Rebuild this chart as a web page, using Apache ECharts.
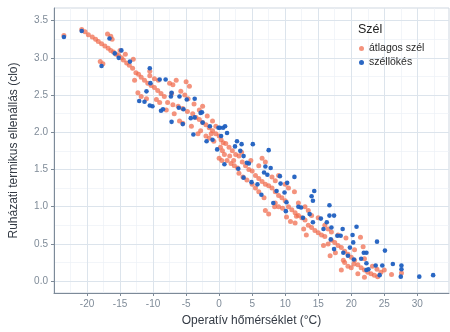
<!DOCTYPE html>
<html><head><meta charset="utf-8">
<script src="https://cdn.jsdelivr.net/npm/echarts@6/dist/echarts.min.js"></script>
<style>html,body{margin:0;padding:0;background:#fff}#c{width:450px;height:332px}</style>
</head><body><div id="c"></div>
<script>
const seriesNames = ['átlagos szél', 'széllökés'];
const xMajor = [-20,-15,-10,-5,0,5,10,15,20,25,30];
const xMinor = [-22.5,-17.5,-12.5,-7.5,-2.5,2.5,7.5,12.5,17.5,22.5,27.5,32.5];
const yMajor = [0,0.5,1,1.5,2,2.5,3,3.5];
const yMinor = [0.25,0.75,1.25,1.75,2.25,2.75,3.25];
const xRange = [-25, 34.8];
const yRange = [-0.16, 3.67];

const atlagos = [
[-23.5,3.30],[-20.8,3.38],[-20.3,3.35],[-19.8,3.31],[-19.2,3.28],[-18.7,3.25],[-18.3,3.22],[-17.8,3.19],
[-17.3,3.16],[-16.8,3.13],[-16.4,3.10],[-16.0,3.08],[-15.6,3.05],[-15.2,3.03],[-14.8,3.00],[-16.9,3.32],
[-16.4,3.29],[-16.2,3.25],[-18.0,2.95],[-17.6,2.92],[-15.0,3.10],[-14.5,2.97],[-14.0,2.93],[-13.6,2.90],
[-13.1,2.86],[-12.6,2.80],[-12.2,2.78],[-11.8,2.74],[-11.3,2.70],[-10.8,2.66],[-10.3,2.63],[-9.8,2.60],
[-9.3,2.56],[-8.8,2.52],[-8.3,2.48],[-13.0,2.98],[-10.5,2.82],[-10.5,2.76],[-9.8,2.72],[-12.3,2.53],
[-11.8,2.48],[-11.0,2.45],[-9.5,2.44],[-9.0,2.40],[-7.5,2.66],[-7.0,2.64],[-6.5,2.70],[-5.0,2.68],
[-4.5,2.62],[-5.8,2.55],[-5.2,2.50],[-4.7,2.45],[-7.8,2.40],[-7.0,2.37],[-6.2,2.35],[-5.5,2.32],
[-4.8,2.28],[-4.0,2.25],[-3.5,2.20],[-3.0,2.17],[-2.5,2.13],[-2.0,2.10],[-1.5,2.06],[-1.0,2.02],
[-0.5,1.98],[0.0,1.95],[0.3,1.90],[0.6,1.86],[-6.0,2.15],[-5.5,2.12],[-3.0,2.30],[-2.5,2.35],
[-3.8,2.38],[-1.8,2.22],[-1.0,2.15],[-0.5,2.08],[-2.0,1.95],[-1.5,1.92],[-0.8,1.88],[0.2,1.80],
[0.5,1.75],[0.8,1.70],[0.0,1.65],[1.0,1.85],[1.5,1.80],[2.0,1.75],[2.5,1.70],[3.0,1.68],
[1.2,1.62],[1.8,1.58],[2.3,1.55],[3.5,1.60],[4.0,1.55],[4.5,1.50],[5.0,1.48],[3.0,1.45],
[3.6,1.40],[5.5,1.42],[6.0,1.38],[6.5,1.34],[7.0,1.30],[7.5,1.28],[6.0,1.55],[6.5,1.65],
[7.0,1.60],[5.0,1.30],[5.5,1.25],[6.0,1.20],[8.0,1.25],[8.5,1.20],[9.0,1.15],[9.5,1.12],
[10.0,1.08],[8.0,1.40],[8.5,1.35],[9.0,1.42],[10.0,1.30],[10.5,1.25],[8.5,1.05],[9.0,1.00],
[7.0,0.95],[7.5,0.90],[10.5,1.00],[11.0,0.96],[11.5,0.92],[12.0,0.88],[12.5,0.85],[13.0,0.82],
[10.8,0.80],[11.5,0.78],[12.0,1.05],[13.0,1.00],[13.5,0.95],[13.5,0.75],[14.0,0.72],[14.5,0.68],
[15.0,0.65],[15.5,0.62],[16.0,0.60],[14.0,0.88],[15.0,0.85],[16.0,0.75],[16.5,0.70],[17.0,0.55],
[17.5,0.52],[18.0,0.48],[18.5,0.45],[17.0,0.66],[18.0,0.62],[16.5,0.50],[19.0,0.40],[19.5,0.36],
[20.0,0.32],[20.5,0.28],[19.0,0.25],[19.5,0.20],[20.0,0.18],[21.0,0.22],[21.5,0.18],[22.0,0.15],
[20.5,0.42],[21.4,0.59],[22.0,0.30],[22.5,0.12],[23.0,0.10],[23.5,0.08],[24.0,0.06],[21.0,0.10],
[22.0,0.05],[24.5,0.12],[25.0,0.15],[26.1,0.09],[27.6,0.11],[23.9,0.16],[20.4,0.23],[18.5,0.15],
[-2.8,2.02],[-1.2,1.98],[1.6,1.68],[2.2,1.62],[4.2,1.36],[4.8,1.62],[3.4,1.73],[8.4,1.00],
[11.4,1.20],[11.7,0.87],[9.6,0.98],[12.8,0.70],[15.8,0.48],[17.6,0.38],[19.2,0.58],[21.8,0.46],
[-8.0,2.30],[-6.8,2.25],[-4.2,2.08],[-3.2,1.98],[0.4,1.62],[2.8,1.52],[6.8,1.12],[10.2,0.86],
[13.2,0.62],[16.8,0.34],[18.8,0.28],[23.2,0.20],[-14.2,3.05],[-12.8,2.70],[-9.2,2.70],[-7.2,2.52]
];

const lokes = [
[-23.5,3.28],[-20.8,3.36],[-16.6,3.26],[-17.8,2.89],[-14.8,3.10],[-15.2,3.00],[-15.8,3.06],[-10.5,2.86],
[-10.4,2.66],[-9.0,2.71],[-8.1,2.71],[-12.1,2.42],[-11.3,2.41],[-10.5,2.36],[-10.1,2.35],[-8.8,2.29],
[-7.2,2.14],[-7.3,2.48],[-6.0,2.48],[-5.4,2.31],[-3.7,2.45],[-3.7,2.20],[-3.9,1.97],[-2.6,2.27],
[-1.9,1.88],[0.1,2.06],[-7.2,2.53],[-4.9,2.44],[-8.5,2.31],[-6.1,2.33],[-5.5,2.11],[-4.3,2.19],
[-2.8,2.26],[-2.5,2.13],[-1.4,2.08],[-0.1,2.06],[0.6,2.06],[0.9,2.08],[1.2,1.99],[0.3,1.95],
[-0.3,1.77],[2.4,1.81],[3.4,1.84],[2.7,1.88],[5.1,1.84],[3.2,1.75],[0.8,1.57],[3.7,1.68],
[4.2,1.59],[7.5,1.76],[4.5,1.58],[3.7,1.39],[7.0,1.54],[7.8,1.52],[6.8,1.46],[7.3,1.43],
[9.2,1.41],[11.4,1.40],[10.3,1.32],[9.3,1.31],[8.7,1.21],[9.9,1.19],[10.2,1.06],[10.1,0.94],
[14.4,1.21],[14.0,1.14],[14.2,1.08],[12.0,1.00],[12.4,0.99],[16.7,1.02],[13.7,0.90],[15.4,0.84],
[16.3,0.79],[17.4,0.88],[17.0,0.72],[18.4,0.61],[18.7,0.70],[12.7,0.85],[14.2,0.79],[20.8,0.73],
[17.9,0.61],[20.2,0.62],[20.3,0.52],[23.9,0.53],[16.9,0.56],[17.4,0.43],[25.1,0.41],[18.8,0.38],
[19.5,0.34],[20.4,0.29],[21.9,0.38],[22.3,0.38],[21.5,0.30],[22.3,0.24],[22.6,0.16],[22.3,0.15],
[23.7,0.21],[24.7,0.21],[24.3,0.08],[26.3,0.23],[27.6,0.21],[27.6,0.16],[27.5,0.06],[30.3,0.06],
[32.4,0.08],[6.4,1.16],[2.9,1.51],[4.9,1.33],[16.7,0.88],[-13.5,2.95],[-11.0,2.55],[-1.0,1.90],
[5.8,1.30],[8.2,1.05],[15.8,0.70],[19.8,0.45]
];

const minorStyle = {color: '#edf1f6', width: 0.7, type: 'solid'};
const majorStyle = {color: '#dce4ec', width: 1, type: 'solid'};
const gridMarks = [];
xMinor.forEach(v => gridMarks.push({xAxis: v, lineStyle: minorStyle}));
yMinor.forEach(v => gridMarks.push({yAxis: v, lineStyle: minorStyle}));
xMajor.forEach(v => gridMarks.push({xAxis: v, lineStyle: majorStyle}));
yMajor.forEach(v => gridMarks.push({yAxis: v, lineStyle: majorStyle}));

const font = 'Liberation Sans, Arial, sans-serif';
const chart = echarts.init(document.getElementById('c'), null, {renderer: 'canvas'});
chart.setOption({
  animation: false,
  backgroundColor: '#ffffff',
  textStyle: {fontFamily: font},
  title: {text: 'Szél', left: 353, top: 18, textStyle: {fontSize: 12.5, fontWeight: 'normal', color: '#222', fontFamily: font}},
  legend: {
    data: seriesNames, orient: 'vertical', left: 354, top: 38, itemGap: 3,
    icon: 'circle', itemWidth: 5, itemHeight: 5, z: 10,
    textStyle: {fontSize: 10.5, color: '#2a2a2a', fontFamily: font}
  },
  grid: {left: 50, right: 1, top: 8, bottom: 39, show: true, borderColor: '#cfd7e0', borderWidth: 1},
  xAxis: {
    type: 'value', min: xRange[0], max: xRange[1],
    name: 'Operatív hőmérséklet (°C)', nameLocation: 'middle', nameGap: 22,
    nameTextStyle: {fontSize: 12, color: '#333a44', fontFamily: font},
    axisLine: {show: true, onZero: false, lineStyle: {color: '#7d8a98', width: 1}},
    axisTick: {show: true, length: 3, lineStyle: {color: '#7d8a98'}, customValues: xMajor},
    axisLabel: {fontSize: 10, color: '#7f8b98', margin: 6, customValues: xMajor, fontFamily: font},
    splitLine: {show: false}
  },
  yAxis: {
    type: 'value', min: yRange[0], max: yRange[1],
    name: 'Ruházati termikus ellenállás (clo)', nameLocation: 'middle', nameGap: 34,
    nameTextStyle: {fontSize: 12, color: '#333a44', fontFamily: font},
    axisLine: {show: true, onZero: false, lineStyle: {color: '#7d8a98', width: 1}},
    axisTick: {show: true, length: 3, lineStyle: {color: '#7d8a98'}, customValues: yMajor},
    axisLabel: {fontSize: 10, color: '#7f8b98', margin: 6, customValues: yMajor, fontFamily: font,
      formatter: v => v.toFixed(1)},
    splitLine: {show: false}
  },
  series: [
    {type: 'scatter', name: '_grid', data: [], silent: true, z: 0,
     markLine: {silent: true, z: 0, symbol: 'none', label: {show: false}, data: gridMarks, animation: false,
       emphasis: {disabled: true}}},
    {type: 'scatter', name: seriesNames[0], data: atlagos, symbolSize: 5, z: 2,
     itemStyle: {color: '#f06a4b', opacity: 0.72}},
    {type: 'scatter', name: seriesNames[1], data: lokes, symbolSize: 4.6, z: 3,
     itemStyle: {color: '#1f5fc0', opacity: 0.95}}
  ]
});
</script></body></html>
